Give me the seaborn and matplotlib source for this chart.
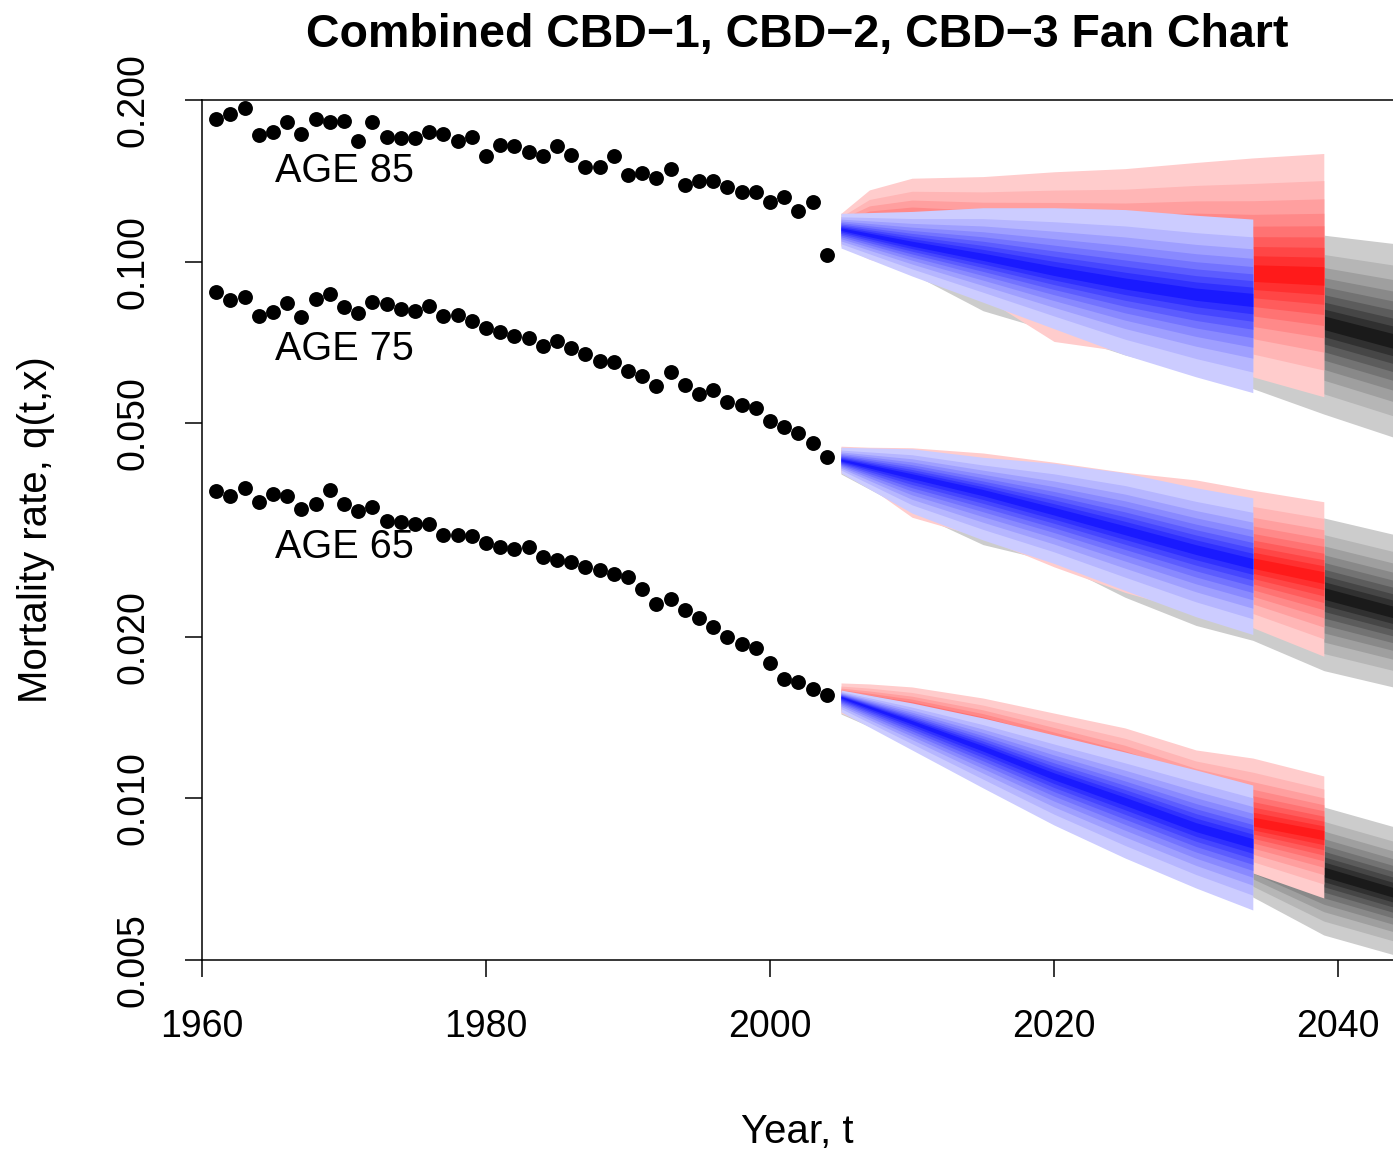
import numpy as np
import pandas as pd
import matplotlib
matplotlib.use("Agg")
import matplotlib.pyplot as plt
from matplotlib.ticker import NullLocator
import seaborn as sns

# observed mortality rates, 1961-2004
years_obs = list(range(1961, 2005))
q_age85 = [0.184, 0.188, 0.193, 0.172, 0.174, 0.182, 0.173, 0.184, 0.182, 0.183, 0.168,
           0.182, 0.171, 0.170, 0.170, 0.174, 0.173, 0.168, 0.171, 0.157, 0.165, 0.164,
           0.160, 0.157, 0.164, 0.158, 0.150, 0.150, 0.157, 0.145, 0.146, 0.143, 0.149,
           0.139, 0.141, 0.141, 0.138, 0.135, 0.135, 0.129, 0.132, 0.124, 0.129, 0.103]
q_age75 = [0.0877, 0.0848, 0.0860, 0.0792, 0.0807, 0.0836, 0.0789, 0.0851, 0.0869, 0.0822,
           0.0803, 0.0842, 0.0833, 0.0815, 0.0809, 0.0828, 0.0792, 0.0795, 0.0776, 0.0751,
           0.0740, 0.0727, 0.0720, 0.0696, 0.0712, 0.0691, 0.0673, 0.0654, 0.0651, 0.0625,
           0.0612, 0.0586, 0.0624, 0.0589, 0.0567, 0.0577, 0.0547, 0.0541, 0.0534, 0.0505,
           0.0492, 0.0479, 0.0459, 0.0433]
q_age65 = [0.0374, 0.0366, 0.0379, 0.0357, 0.0369, 0.0366, 0.0346, 0.0354, 0.0375, 0.0354,
           0.0343, 0.0349, 0.0329, 0.0327, 0.0324, 0.0324, 0.0310, 0.0310, 0.0308, 0.0299,
           0.0294, 0.0291, 0.0294, 0.0282, 0.0278, 0.0276, 0.0270, 0.0266, 0.0262, 0.0258,
           0.0246, 0.0230, 0.0235, 0.0224, 0.0217, 0.0209, 0.0200, 0.0194, 0.0191, 0.0179,
           0.0167, 0.0165, 0.0160, 0.0156]
age_labels = ['AGE 85', 'AGE 75', 'AGE 65']

# forecast fans: 5% / median / 95% per model
blue_years = [2005, 2010, 2015, 2020, 2025, 2030, 2034]
red_years = [2005, 2007, 2010, 2015, 2020, 2025, 2030, 2034, 2039]
gray_years = [2005, 2010, 2015, 2020, 2025, 2030, 2034, 2039, 2044]

blue85_hi = [0.123, 0.124, 0.126, 0.126, 0.125, 0.122, 0.120]
blue85_md = [0.115, 0.108, 0.102, 0.096, 0.091, 0.087, 0.085]
blue85_lo = [0.106, 0.094, 0.084, 0.075, 0.067, 0.061, 0.057]
red85_hi = [0.123, 0.136, 0.143, 0.144, 0.147, 0.149, 0.153, 0.156, 0.159]
red85_md = [0.115, 0.113, 0.111, 0.107, 0.103, 0.100, 0.098, 0.095, 0.094]
red85_lo = [0.107, 0.101, 0.096, 0.086, 0.071, 0.068, 0.063, 0.061, 0.056]
gray85_hi = [0.123, 0.122, 0.121, 0.119, 0.116, 0.115, 0.113, 0.112, 0.108]
gray85_md = [0.115, 0.107, 0.101, 0.094, 0.089, 0.084, 0.080, 0.077, 0.071]
gray85_lo = [0.107, 0.095, 0.081, 0.074, 0.067, 0.062, 0.058, 0.052, 0.047]

blue75_hi = [0.0451, 0.0448, 0.0432, 0.0421, 0.0404, 0.0379, 0.0363]
blue75_md = [0.0427, 0.0399, 0.0372, 0.0343, 0.0316, 0.0291, 0.0274]
blue75_lo = [0.0404, 0.0340, 0.0303, 0.0274, 0.0244, 0.0218, 0.0202]
red75_hi = [0.0453, 0.0451, 0.0450, 0.0440, 0.0423, 0.0405, 0.0392, 0.0375, 0.0357]
red75_md = [0.0427, 0.0416, 0.0402, 0.0375, 0.0349, 0.0324, 0.0299, 0.0274, 0.0258]
red75_lo = [0.0404, 0.0380, 0.0334, 0.0306, 0.0270, 0.0242, 0.0222, 0.0208, 0.0184]
gray75_hi = [0.0451, 0.0442, 0.0423, 0.0406, 0.0387, 0.0366, 0.0351, 0.0333, 0.0310]
gray75_md = [0.0427, 0.0399, 0.0367, 0.0340, 0.0314, 0.0288, 0.0266, 0.0241, 0.0222]
gray75_lo = [0.0402, 0.0342, 0.0297, 0.0276, 0.0237, 0.0210, 0.0197, 0.0173, 0.0161]

blue65_hi = [0.01592, 0.01506, 0.01412, 0.01313, 0.01220, 0.01130, 0.01059]
blue65_md = [0.01545, 0.01388, 0.01241, 0.01101, 0.009889, 0.008846, 0.008259]
blue65_lo = [0.01449, 0.01231, 0.01046, 0.008922, 0.007744, 0.006809, 0.006196]
red65_hi = [0.01641, 0.01634, 0.01613, 0.01538, 0.01442, 0.01353, 0.01231, 0.01189, 0.01101]
red65_md = [0.01545, 0.01506, 0.01449, 0.01341, 0.01220, 0.01106, 0.009932, 0.009037, 0.008547]
red65_lo = [0.01442, 0.01370, 0.01257, 0.01091, 0.009434, 0.008366, 0.007744, 0.007262, 0.006523]
gray65_hi = [0.01592, 0.01525, 0.01436, 0.01330, 0.01231, 0.01130, 0.01037, 0.009638, 0.008846]
gray65_md = [0.01538, 0.01412, 0.01274, 0.01139, 0.01015, 0.009037, 0.008084, 0.007293, 0.006665]
gray65_lo = [0.01436, 0.01257, 0.01082, 0.009313, 0.008084, 0.007200, 0.006551, 0.005566, 0.005108]

# relative spread of the 5-95% quantile bands (outer to inner)
band_frac = [1.0, 0.779, 0.630, 0.512, 0.410, 0.319, 0.234, 0.154, 0.076]

sns.set_style("ticks")
plt.rcParams['font.family'] = ['Liberation Sans', 'DejaVu Sans']
plt.rcParams['text.color'] = 'black'
plt.rcParams['axes.labelcolor'] = 'black'

fig = plt.figure(figsize=(13.93, 11.53), dpi=100)
ax = fig.add_axes([202 / 1393, 193 / 1153, 1191 / 1393, 860 / 1153])
ax.set_yscale('log')


def draw_fan(yrs, lo, md, hi, base):
    lo, md, hi = map(np.asarray, (lo, md, hi))
    for f, w in zip(band_frac, np.linspace(0.8, 0.1, len(band_frac))):
        col = tuple(c + (1 - c) * w for c in base)
        ax.fill_between(yrs, md * (lo / md) ** f, md * (hi / md) ** f,
                        color=col, lw=0)


fans = [
    (gray85_lo, gray85_md, gray85_hi, red85_lo, red85_md, red85_hi, blue85_lo, blue85_md, blue85_hi),
    (gray75_lo, gray75_md, gray75_hi, red75_lo, red75_md, red75_hi, blue75_lo, blue75_md, blue75_hi),
    (gray65_lo, gray65_md, gray65_hi, red65_lo, red65_md, red65_hi, blue65_lo, blue65_md, blue65_hi),
]
for f in fans:
    draw_fan(gray_years, f[0], f[1], f[2], (0, 0, 0))
    draw_fan(red_years, f[3], f[4], f[5], (1, 0, 0))
    draw_fan(blue_years, f[6], f[7], f[8], (0, 0, 1))

obs = pd.DataFrame({
    'year': years_obs * 3,
    'q': q_age85 + q_age75 + q_age65,
})
sns.scatterplot(data=obs, x='year', y='q', color='black', s=115,
                linewidth=0, ax=ax, legend=False, zorder=5)

for lab, yv in zip(age_labels, [0.1407, 0.06557, 0.02804]):
    ax.text(1970, yv, lab, ha='center', va='baseline', fontsize=28.5)

ax.set_xlim(1960, 1960 + 1191 / 14.2)
ax.set_ylim(0.005, 0.2)
ax.yaxis.set_minor_locator(NullLocator())
ax.set_yticks([0.005, 0.01, 0.02, 0.05, 0.1, 0.2],
              ['0.005', '0.010', '0.020', '0.050', '0.100', '0.200'],
              rotation=90, va='center')
ax.set_xticks([1960, 1980, 2000, 2020, 2040])
ax.tick_params(axis='both', direction='out', length=12.5, width=1.1,
               labelsize=27, color='black', labelcolor='black')
ax.tick_params(axis='y', pad=24)
ax.tick_params(axis='x', pad=23)
for s in ['left', 'bottom', 'top']:
    ax.spines[s].set_linewidth(1.1)
    ax.spines[s].set_color('black')
ax.spines['right'].set_visible(False)

ax.set_xlabel('Year, t', fontsize=29)
ax.set_ylabel('Mortality rate, q(t,x)', fontsize=29)
ax.xaxis.set_label_coords(0.5, -0.1779)
ax.yaxis.set_label_coords(-0.1234, 0.5)
ax.set_title('Combined CBD\u22121, CBD\u22122, CBD\u22123 Fan Chart',
             fontsize=33.5, fontweight='bold', pad=38)

fig.savefig('out.png', dpi=100)
